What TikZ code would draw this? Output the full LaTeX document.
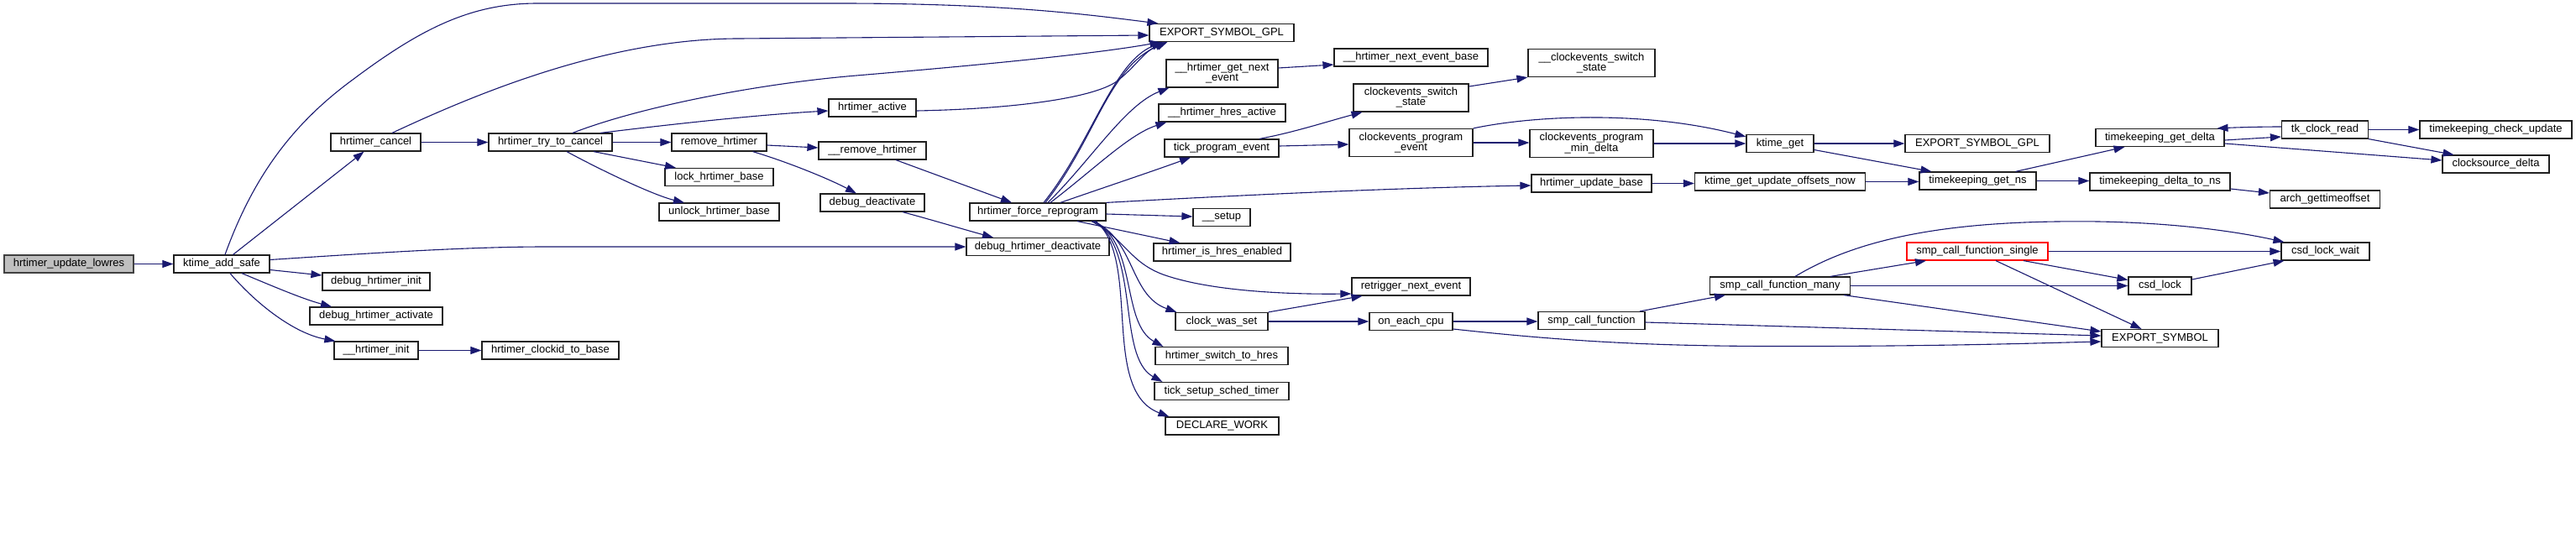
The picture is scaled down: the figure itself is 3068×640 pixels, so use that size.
\documentclass[tikz,border=0pt]{standalone}
\usepackage{fontspec}
\setmainfont{Liberation Sans}
\usetikzlibrary{arrows.meta}
\definecolor{edgeblue}{HTML}{191970}
\definecolor{rootgray}{HTML}{BFBFBF}
\definecolor{rootborder}{HTML}{404040}
\definecolor{truncred}{HTML}{FF0000}
\definecolor{boxborder}{HTML}{202020}
\tikzset{
  nd/.style={draw=boxborder, line width=1.2pt, fill=white, inner sep=0pt,
    minimum height=21pt, font=\fontsize{13}{12}\selectfont},
  nd2/.style={nd, minimum height=33pt, align=center},
  rootnd/.style={nd, fill=rootgray, draw=rootborder},
  truncnd/.style={nd, draw=truncred},
  edge/.style={draw=edgeblue, line width=1.1pt, -{Triangle[length=13pt,width=9pt]}}
}
\begin{document}
\begin{tikzpicture}[x=1pt,y=-1pt]
\useasboundingbox (0,0) rectangle (3068,640);
\fill[white] (0,0) rectangle (3068,640);

% nodes
\node[rootnd, minimum width=154pt] (lowres) at (82,314.5) {hrtimer\_update\_lowres};
\node[nd, minimum width=114pt] (kas) at (264,314.5) {ktime\_add\_safe};
\node[nd, minimum width=107pt] (hcancel) at (447.5,169.5) {hrtimer\_cancel};
\node[nd, minimum width=128pt] (dinit) at (448,335.5) {debug\_hrtimer\_init};
\node[nd, minimum width=158pt] (dact) at (448,376.5) {debug\_hrtimer\_activate};
\node[nd, minimum width=100pt] (hinit) at (448,417.5) {\_\_hrtimer\_init};
\node[nd, minimum width=147pt] (htc) at (655.5,169.5) {hrtimer\_try\_to\_cancel};
\node[nd, minimum width=163pt] (clockid) at (655.5,417.5) {hrtimer\_clockid\_to\_base};
\node[nd, minimum width=113pt] (rmh) at (856.5,169.5) {remove\_hrtimer};
\node[nd, minimum width=129pt] (lock) at (856.5,211) {lock\_hrtimer\_base};
\node[nd, minimum width=143pt] (unlock) at (856.5,252.5) {unlock\_hrtimer\_base};
\node[nd, minimum width=104pt] (active) at (1039,128.5) {hrtimer\_active};
\node[nd, minimum width=128pt] (rmh2) at (1039,179.5) {\_\_remove\_hrtimer};
\node[nd, minimum width=124pt] (ddeact) at (1039,241.5) {debug\_deactivate};
\node[nd, minimum width=162pt] (hfr) at (1236,252.5) {hrtimer\_force\_reprogram};
\node[nd, minimum width=170pt] (dhd) at (1236,294) {debug\_hrtimer\_deactivate};
\node[nd, minimum width=172pt] (esg1) at (1455,39) {EXPORT\_SYMBOL\_GPL};
\node[nd2, minimum width=133pt] (hgne) at (1455.5,87.5) {\_\_hrtimer\_get\_next\\\_event};
\node[nd, minimum width=151pt] (hha) at (1455.5,134.5) {\_\_hrtimer\_hres\_active};
\node[nd, minimum width=136pt] (tpe) at (1455,176.5) {tick\_program\_event};
\node[nd, minimum width=68pt] (setup) at (1455,259) {\_\_setup};
\node[nd, minimum width=163pt] (hihe) at (1455.5,300.5) {hrtimer\_is\_hres\_enabled};
\node[nd, minimum width=110pt] (cws) at (1455,383) {clock\_was\_set};
\node[nd, minimum width=158pt] (hsth) at (1455,424) {hrtimer\_switch\_to\_hres};
\node[nd, minimum width=160pt] (tsst) at (1455,466) {tick\_setup\_sched\_timer};
\node[nd, minimum width=135pt] (dw) at (1455.5,507.5) {DECLARE\_WORK};
\node[nd, minimum width=183pt] (hneb) at (1680.5,68.5) {\_\_hrtimer\_next\_event\_base};
\node[nd2, minimum width=137pt] (css) at (1680.5,116.5) {clockevents\_switch\\\_state};
\node[nd2, minimum width=147pt] (cpe) at (1680.5,170) {clockevents\_program\\\_event};
\node[nd, minimum width=141pt] (rne) at (1680.5,341.5) {retrigger\_next\_event};
\node[nd, minimum width=99pt] (oec) at (1680.5,383) {on\_each\_cpu};
\node[nd2, minimum width=151pt] (ccss) at (1895.5,75) {\_\_clockevents\_switch\\\_state};
\node[nd2, minimum width=147pt] (cpmd) at (1895.5,171) {clockevents\_program\\\_min\_delta};
\node[nd, minimum width=143pt] (hub) at (1895.5,218.5) {hrtimer\_update\_base};
\node[nd, minimum width=127pt] (scf) at (1895.5,382) {smp\_call\_function};
\node[nd, minimum width=80pt] (kget) at (2120,171) {ktime\_get};
\node[nd, minimum width=203pt] (kguon) at (2120,216.5) {ktime\_get\_update\_offsets\_now};
\node[nd, minimum width=167pt] (scfm) at (2120,340.5) {smp\_call\_function\_many};
\node[nd, minimum width=172pt] (esg2) at (2355,171) {EXPORT\_SYMBOL\_GPL};
\node[nd, minimum width=139pt] (tgns) at (2355.5,215.5) {timekeeping\_get\_ns};
\node[truncnd, minimum width=168pt] (scfs) at (2355,299.5) {smp\_call\_function\_single};
\node[nd, minimum width=153pt] (tgd) at (2572.5,164) {timekeeping\_get\_delta};
\node[nd, minimum width=167pt] (tdtn) at (2572.5,216.5) {timekeeping\_delta\_to\_ns};
\node[nd, minimum width=75pt] (csdl) at (2572.5,340.5) {csd\_lock};
\node[nd, minimum width=139pt] (es) at (2572.5,403) {EXPORT\_SYMBOL};
\node[nd, minimum width=103pt] (tkcr) at (2769,154.5) {tk\_clock\_read};
\node[nd, minimum width=131pt] (agto) at (2769,237.5) {arch\_gettimeoffset};
\node[nd, minimum width=105pt] (csdlw) at (2769.5,299.5) {csd\_lock\_wait};
\node[nd, minimum width=181pt] (tcu) at (2972.5,154.5) {timekeeping\_check\_update};
\node[nd, minimum width=127pt] (csd) at (2972.5,195.5) {clocksource\_delta};

% edges
\draw[edge] (lowres.east) -- (kas.west);
\draw[edge] ([xshift=4pt]kas.north) .. controls (300,215) and (345,150) .. (420,95) .. controls (500,35) and (560,4) .. (640,4) -- (1000,4) .. controls (1200,4) and (1300,18) .. ([xshift=11pt]esg1.north west);
\draw[edge] ([xshift=13.5pt]kas.north) -- ([xshift=-14pt]hcancel.south);
\draw[edge] ([yshift=5pt]kas.east) .. controls (450,301) and (560,294) .. (650,294) -- (dhd.west);
\draw[edge] ([yshift=-7pt]kas.east) -- ([yshift=7.5pt]dinit.west);
\draw[edge] ([xshift=24pt]kas.south) .. controls (325,341) and (360,356) .. ([xshift=-53pt]dact.north);
\draw[edge] ([xshift=10pt]kas.south) .. controls (305,362) and (350,397) .. ([xshift=2pt]hinit.north west);

\draw[edge] ([xshift=19.5pt]hcancel.north) .. controls (560,115) and (720,46) .. (880,46) -- ([yshift=-3pt]esg1.west);
\draw[edge] (hcancel.east) -- (htc.west);

\draw[edge] ([xshift=26.5pt]htc.north) .. controls (760,128) and (900,100) .. (1020,90) .. controls (1150,79) and (1300,65) .. ([xshift=14pt]esg1.south west);
\draw[edge] ([xshift=59.5pt]htc.north) .. controls (800,148) and (900,137) .. ([yshift=-3.5pt]active.west);
\draw[edge] (htc.east) -- (rmh.west);
\draw[edge] ([xshift=51.5pt]htc.south) -- ([xshift=-51.5pt]lock.north);
\draw[edge] ([xshift=19.5pt]htc.south) .. controls (720,205) and (780,233) .. ([xshift=-41.5pt]unlock.north);

\draw[edge] ([yshift=-3.5pt]rmh.east) -- ([yshift=3.5pt]rmh2.west);
\draw[edge] ([xshift=40pt]rmh.south) .. controls (935,192) and (985,212) .. ([xshift=-19pt]ddeact.north);

\draw[edge] ([yshift=-3.5pt]active.east) .. controls (1200,130) and (1300,118) .. (1330,97) .. controls (1352,80) and (1362,62) .. ([xshift=20pt]esg1.south west);
\draw[edge] ([xshift=28pt]rmh2.south) -- ([xshift=-31pt]hfr.north);
\draw[edge] ([xshift=36pt]ddeact.south) .. controls (1110,262) and (1150,274) .. ([xshift=-53pt]dhd.north);

\draw[edge] ([xshift=7pt]hfr.north) .. controls (1300,170) and (1325,75) .. ([xshift=16pt]esg1.south west);
\draw[edge] ([xshift=9pt]hfr.north) .. controls (1305,165) and (1320,80) .. ([xshift=22pt]esg1.south west);
\draw[edge] ([xshift=12pt]hfr.north) .. controls (1300,190) and (1340,125) .. ([xshift=4pt]hgne.south west);
\draw[edge] ([xshift=15pt]hfr.north) .. controls (1305,200) and (1345,160) .. ([xshift=10pt]hha.south west);
\draw[edge] ([xshift=27pt]hfr.north) .. controls (1310,225) and (1370,205) .. ([xshift=-37pt]tpe.south);
\draw[edge] (hfr.north east) .. controls (1450,234) and (1650,224) .. ([yshift=-2.5pt]hub.west);
\draw[edge] ([yshift=-2.5pt]hfr.east) -- ([yshift=1pt]setup.west);
\draw[edge] ([xshift=47pt]hfr.south) -- ([xshift=-50pt]hihe.north);
\draw[edge] ([xshift=64pt]hfr.south) .. controls (1340,285) and (1345,312) .. (1385,327) .. controls (1435,345) and (1520,351) .. ([yshift=-8.5pt]rne.west);
\draw[edge] ([xshift=66pt]hfr.south) .. controls (1352,285) and (1345,352) .. ([xshift=2pt]cws.north west);
\draw[edge] ([xshift=67pt]hfr.south) .. controls (1355,290) and (1335,385) .. ([xshift=10pt]hsth.north west);
\draw[edge] ([xshift=68pt]hfr.south) .. controls (1358,300) and (1330,425) .. ([xshift=10pt]tsst.north west);
\draw[edge] ([xshift=69pt]hfr.south) .. controls (1360,310) and (1310,465) .. ([xshift=5pt]dw.north west);

\draw[edge] ([xshift=45pt]tpe.north) .. controls (1540,158) and (1580,145) .. ([xshift=-58pt]css.south);
\draw[edge] ([yshift=2.5pt]tpe.east) -- ([yshift=-2pt]cpe.west);
\draw[edge] ([yshift=13.5pt]css.east) -- (ccss.south west);
\draw[edge] ([yshift=6.5pt]hgne.east) -- ([yshift=-8.5pt]hneb.west);
\draw[edge] (cpe.north east) .. controls (1830,137) and (1960,132) .. ([yshift=-3pt]kget.north west);
\draw[edge] (cpe.east) -- ([yshift=1pt]cpmd.west);
\draw[edge] (cpmd.east) -- (kget.west);
\draw[edge] (hub.east) -- ([yshift=-2pt]kguon.west);
\draw[edge] (kget.east) -- (esg2.west);
\draw[edge] ([yshift=-7.5pt]kget.east) -- ([xshift=-55pt]tgns.north);
\draw[edge] (kguon.east) -- ([yshift=-1pt]tgns.west);
\draw[edge] ([xshift=45pt]tgns.north) -- ([xshift=-42pt]tgd.south);
\draw[edge] (tgns.east) -- ([yshift=1pt]tdtn.west);
\draw[edge] ([yshift=-3pt]tgd.east) -- ([yshift=-8.5pt]tkcr.west);
\draw[edge] ([yshift=-7pt]tgd.east) -- ([yshift=4.5pt]csd.west);
\draw[edge] ([yshift=3.5pt]tkcr.west) .. controls (2690,151) and (2660,152) .. ([xshift=68pt]tgd.north);
\draw[edge] (tkcr.east) -- (tcu.west);
\draw[edge] (tkcr.south east) -- ([xshift=-50pt]csd.north);
\draw[edge] ([yshift=-8.5pt]tdtn.east) -- ([yshift=7.5pt]agto.west);

\draw[edge] (cws.north east) -- ([xshift=-58pt]rne.south);
\draw[edge] (cws.east) -- (oec.west);
\draw[edge] (oec.east) -- ([yshift=-1pt]scf.west);
\draw[edge] ([yshift=-9pt]oec.east) .. controls (1850,405) and (1950,412) .. (2100,412.5) .. controls (2300,413) and (2420,409) .. ([yshift=-4pt]es.west);
\draw[edge] ([xshift=57.5pt]scf.north) -- ([xshift=-65pt]scfm.south);
\draw[edge] ([yshift=-2pt]scf.east) -- ([yshift=3pt]es.west);
\draw[edge] ([xshift=18pt]scfm.north) .. controls (2200,292) and (2290,266) .. (2450,264) .. controls (2570,262) and (2660,275) .. ([xshift=4pt]csdlw.north west);
\draw[edge] ([xshift=60pt]scfm.north) -- ([xshift=-61pt]scfs.south);
\draw[edge] (scfm.east) -- (csdl.west);
\draw[edge] ([xshift=76pt]scfm.south) -- ([yshift=8pt]es.west);
\draw[edge] (scfs.east) -- (csdlw.west);
\draw[edge] ([xshift=55pt]scfs.south) -- ([yshift=7pt]csdl.west);
\draw[edge] ([xshift=22pt]scfs.south) -- ([xshift=-22pt]es.north);
\draw[edge] ([yshift=7.5pt]csdl.east) -- ([xshift=-49pt]csdlw.south);
\draw[edge] (hinit.east) -- (clockid.west);
\end{tikzpicture}
\end{document}
